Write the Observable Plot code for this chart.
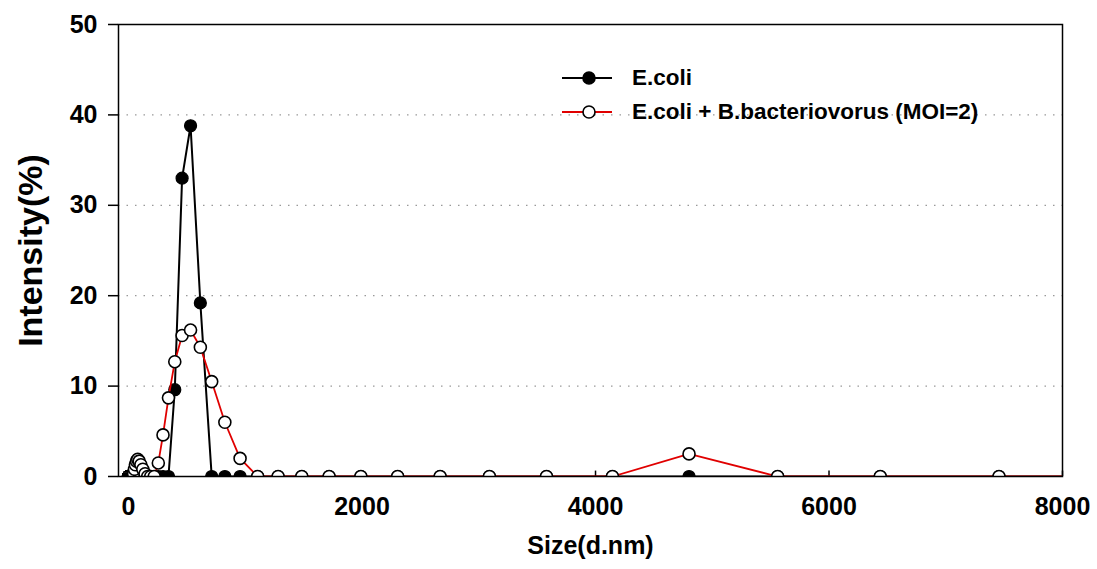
<!DOCTYPE html>
<html>
<head>
<meta charset="utf-8">
<script src="https://cdn.jsdelivr.net/npm/d3@7"></script>
<script src="https://cdn.jsdelivr.net/npm/@observablehq/plot@0.6"></script>
<style>
  html, body { margin: 0; padding: 0; background: #fff; }
  #wrap { position: relative; width: 1097px; height: 569px; font-family: "Liberation Sans", Arial, sans-serif; }
  #legend { position: absolute; left: 560px; top: 61px; font-weight: bold; font-size: 22.5px; color: #000; }
  #legend .row { display: flex; align-items: center; height: 34px; }
  #legend svg { margin-right: 18px; }
</style>
</head>
<body>
<div id="wrap">
  <div id="chart"></div>
  <div id="legend"></div>
</div>
<script>
// Size bins (d.nm)
const sizes = [0.4, 0.4632, 0.5365, 0.6213, 0.7195, 0.8332, 0.9649, 1.117, 1.294, 1.499,
  1.736, 2.010, 2.328, 2.696, 3.122, 3.615, 4.187, 4.849, 5.615, 6.503,
  7.531, 8.721, 10.10, 11.70, 13.54, 15.69, 18.17, 21.04, 24.36, 28.21,
  32.67, 37.84, 43.82, 50.75, 58.77, 68.06, 78.82, 91.28, 105.7, 122.4,
  141.8, 164.2, 190.1, 220.2, 255.0, 295.3, 342.0, 396.1, 458.7, 531.2,
  615.1, 712.4, 825.0, 955.4, 1106, 1281, 1484, 1718, 1990, 2305,
  2669, 3091, 3580, 4145, 4801, 5560, 6439, 7456, 8635, 10000];

// Intensity (%) – E.coli
const ecoli = [0, 0, 0, 0, 0, 0, 0, 0, 0, 0,
  0, 0, 0, 0, 0, 0, 0, 0, 0, 0,
  0, 0, 0, 0, 0, 0, 0, 0, 0, 0,
  0, 0, 0, 0, 0, 0, 0, 0, 0, 0,
  0, 0, 0, 0, 0, 0, 0, 9.6, 33.0, 38.8,
  19.2, 0, 0, 0, 0, 0, 0, 0, 0, 0,
  0, 0, 0, 0, 0, 0, 0, 0, 0, 0];

// Intensity (%) – E.coli + B.bacteriovorus (MOI=2)
const mixed = [0, 0, 0, 0, 0, 0, 0, 0, 0, 0,
  0, 0, 0, 0, 0, 0, 0, 0, 0, 0,
  0, 0, 0, 0, 0, 0, 0, 0, 0, 0,
  0, 0, 0.3, 0.8, 1.3, 1.7, 1.9, 1.7, 1.3, 0.8,
  0.3, 0, 0, 0, 1.5, 4.6, 8.7, 12.7, 15.6, 16.2,
  14.3, 10.5, 6.0, 2.0, 0, 0, 0, 0, 0, 0,
  0, 0, 0, 0, 2.5, 0, 0, 0, 0, 0];

const seriesNames = ["E.coli", "E.coli + B.bacteriovorus (MOI=2)"];
const xTicks = [0, 2000, 4000, 6000, 8000];
const yTicks = [0, 10, 20, 30, 40, 50];
const gridY = [10, 20, 30, 40];

const ecoliData = sizes.map((s, i) => ({size: s, value: ecoli[i]}));
const mixedData = sizes.map((s, i) => ({size: s, value: mixed[i]}));

const font = "'Liberation Sans', Arial, sans-serif";

const chart = Plot.plot({
  width: 1097,
  height: 569,
  marginLeft: 118,
  marginRight: 35,
  marginTop: 24,
  marginBottom: 93,
  style: {fontFamily: font, background: "white", color: "black"},
  x: {domain: [-86, 8000]},
  y: {domain: [0, 50]},
  marks: [
    Plot.ruleY(gridY, {stroke: "#999", strokeDasharray: "1.5,7", strokeWidth: 1.2}),
    Plot.axisY(yTicks, {tickSize: 10, tickPadding: 11, fontSize: 25, fontWeight: "bold", label: null, strokeWidth: 1.5}),
    Plot.axisX(xTicks, {tickSize: 0, tickPadding: 21, fontSize: 25, fontWeight: "bold", label: null, tickFormat: "d"}),
    Plot.ruleX(xTicks, {y1: 0, y2: 0.6, stroke: "black", strokeWidth: 1.5}),
    Plot.line(ecoliData, {x: "size", y: "value", stroke: "black", strokeWidth: 2, clip: true}),
    Plot.dot(ecoliData, {x: "size", y: "value", r: 6, fill: "black", stroke: "black", strokeWidth: 1.2, clip: true}),
    Plot.line(mixedData, {x: "size", y: "value", stroke: "#e00000", strokeWidth: 1.8, clip: true}),
    Plot.dot(mixedData, {x: "size", y: "value", r: 6, fill: "white", stroke: "black", strokeWidth: 1.6, clip: true}),
    Plot.frame({stroke: "black", strokeWidth: 1.5}),
    Plot.text(["Intensity(%)"], {frameAnchor: "left", textAnchor: "middle", rotate: -90, dx: -87, fontSize: 34, fontWeight: "bold"}),
    Plot.text(["Size(d.nm)"], {frameAnchor: "bottom", textAnchor: "middle", dy: 77, fontSize: 25, fontWeight: "bold"})
  ]
});
document.getElementById("chart").appendChild(chart);

// Legend
const legend = document.getElementById("legend");
const legendStyles = [
  {line: "black", fill: "black"},
  {line: "#e00000", fill: "white"}
];
seriesNames.forEach((name, i) => {
  const row = document.createElement("div");
  row.className = "row";
  row.innerHTML = `<svg width="54" height="16"><line x1="2" x2="52" y1="8" y2="8" stroke="${legendStyles[i].line}" stroke-width="2"/><circle cx="29" cy="8" r="6" fill="${legendStyles[i].fill}" stroke="black" stroke-width="1.6"/></svg><span>${name}</span>`;
  legend.appendChild(row);
});
</script>
</body>
</html>
